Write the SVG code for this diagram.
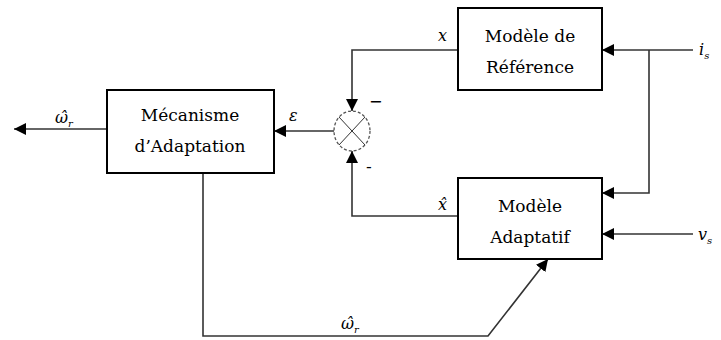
<svg xmlns="http://www.w3.org/2000/svg" width="721" height="340" viewBox="0 0 721 340">
<defs>
<style>
.box{fill:#fff;stroke:#000;stroke-width:2}
.ln{fill:none;stroke:#333;stroke-width:1.6}
.lbl{font-size:17px;fill:#000;text-anchor:middle}
.m{font-size:16px;font-style:italic;fill:#000}
.sub{font-size:10px}
</style>
<marker id="ah" markerWidth="12" markerHeight="12" refX="12" refY="6" orient="auto" markerUnits="userSpaceOnUse">
<path d="M0,0 L12,6 L0,12 Z" fill="#000"/>
</marker>
</defs>
<rect width="721" height="340" fill="#fff"/>
<g id="connectors">
<path class="ln" d="M107,129 L14,129" marker-end="url(#ah)"/>
<path class="ln" d="M334,131 L274,131" marker-end="url(#ah)"/>
<path class="ln" d="M458,50 L352,50 L352,111" marker-end="url(#ah)"/>
<path class="ln" d="M458,216 L352,216 L352,151" marker-end="url(#ah)"/>
<path class="ln" d="M693,50 L602,50" marker-end="url(#ah)"/>
<path class="ln" d="M649,50 L649,193 L602,193" marker-end="url(#ah)"/>
<path class="ln" d="M693,234 L602,234" marker-end="url(#ah)"/>
<path class="ln" d="M203,173 L203,336 L488,336 L548,259" marker-end="url(#ah)"/>
</g>
<g id="sum">
<ellipse cx="352" cy="131" rx="18" ry="20" fill="#fff" stroke="#555" stroke-width="1.3" stroke-dasharray="3,2"/>
<path d="M339,117 L365,145 M365,117 L339,145" stroke="#333" stroke-width="1"/>
<text x="369" y="107" style="font-family:'DejaVu Sans',sans-serif" font-size="16" fill="#000">−</text>
<text x="366" y="172" style="font-family:'DejaVu Sans',sans-serif" font-size="16" fill="#000">-</text>
</g>
<g id="mecanisme">
<rect class="box" x="107" y="90" width="167" height="83"/>
<text class="lbl" x="190" y="121" style="font-family:'DejaVu Serif',serif">Mécanisme</text>
<text class="lbl" x="190" y="152" style="font-family:'DejaVu Serif',serif">d’Adaptation</text>
</g>
<g id="reference">
<rect class="box" x="458" y="8" width="144" height="82"/>
<text class="lbl" x="530" y="42" style="font-family:'DejaVu Serif',serif">Modèle de</text>
<text class="lbl" x="530" y="73" style="font-family:'DejaVu Serif',serif">Référence</text>
</g>
<g id="adaptatif">
<rect class="box" x="458" y="178" width="144" height="81"/>
<text class="lbl" x="530" y="212" style="font-family:'DejaVu Serif',serif">Modèle</text>
<text class="lbl" x="530" y="243" style="font-family:'DejaVu Serif',serif">Adaptatif</text>
</g>
<g id="labels">
<text class="m" x="55" y="123" style="font-family:'DejaVu Serif',serif">ω̂<tspan class="sub" dy="4">r</tspan></text>
<text class="m" x="289" y="121" style="font-family:'DejaVu Serif',serif">ε</text>
<text class="m" x="438" y="41" style="font-family:'DejaVu Serif',serif">x</text>
<text class="m" x="438" y="210" style="font-family:'DejaVu Serif',serif">x̂</text>
<text class="m" x="699" y="55" style="font-family:'DejaVu Serif',serif">i<tspan class="sub" dy="4">s</tspan></text>
<text class="m" x="698" y="240" style="font-family:'DejaVu Serif',serif">v<tspan class="sub" dy="4">s</tspan></text>
<text class="m" x="341" y="329" style="font-family:'DejaVu Serif',serif">ω̂<tspan class="sub" dy="4">r</tspan></text>
</g>
</svg>
